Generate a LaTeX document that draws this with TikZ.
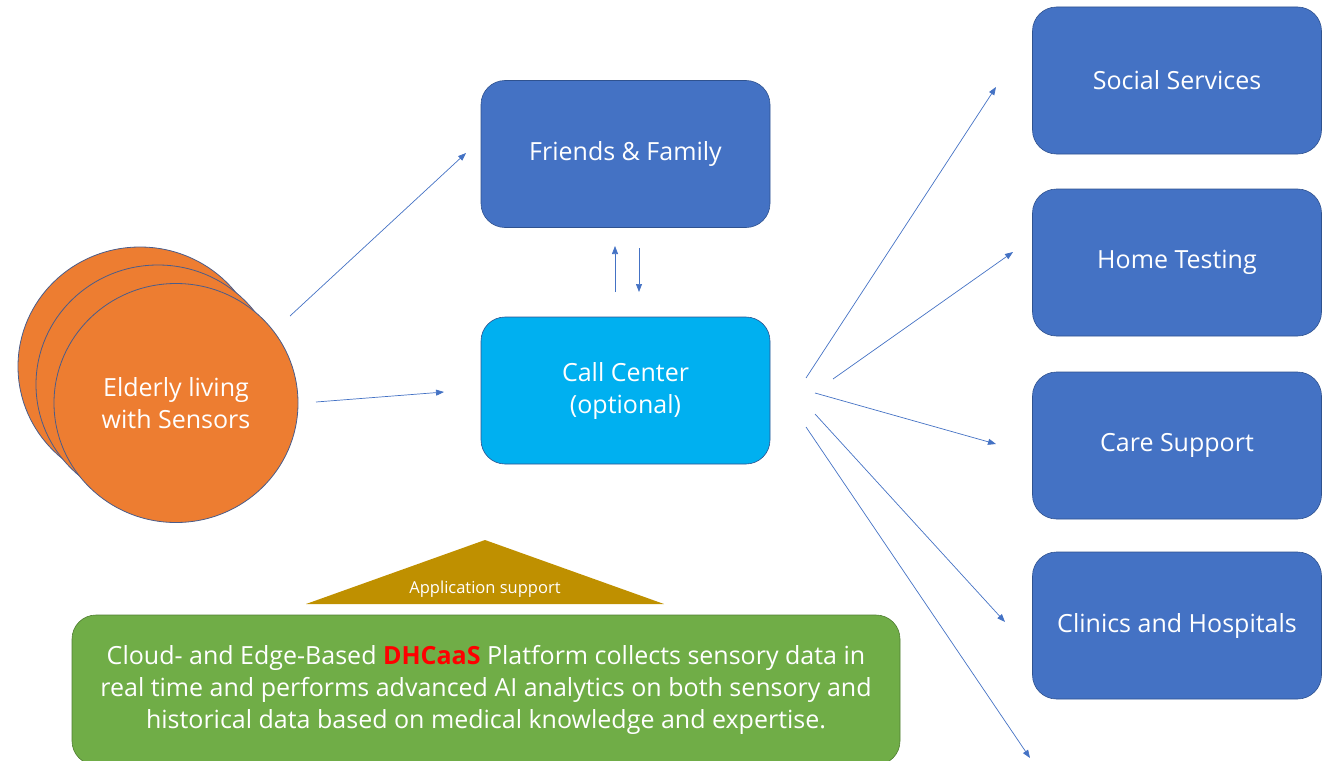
\documentclass[tikz,border=0pt]{standalone}
\usepackage{fontspec}
\setmainfont{Open Sans}
\usetikzlibrary{shapes.geometric,arrows.meta}
\definecolor{boxblue}{HTML}{4472C4}
\definecolor{boxedge}{HTML}{2F528F}
\definecolor{callcyan}{HTML}{00B0F0}
\definecolor{elderorange}{HTML}{ED7D31}
\definecolor{elderedge}{HTML}{4A5C8A}
\definecolor{platgreen}{HTML}{70AD47}
\definecolor{platedge}{HTML}{507E32}
\definecolor{supportgold}{HTML}{BF9000}
\definecolor{linkblue}{HTML}{4472C4}
\begin{document}
\begin{tikzpicture}[x=1pt,y=-1pt,
  svcbox/.style={draw=boxedge,line width=0.6pt,fill=boxblue,rounded corners=24pt,
    minimum width=289pt,minimum height=147pt,text=white,font=\fontsize{25}{32}\selectfont,
    align=center,inner sep=0pt},
  person/.style={ellipse,draw=elderedge,line width=0.8pt,fill=elderorange,
    minimum width=244pt,minimum height=239pt,inner sep=0pt},
  link/.style={draw=linkblue,line width=0.7pt,-{Triangle[length=8pt,width=6pt]}}]
\useasboundingbox (0,0) rectangle (1332,760);

% stacked elderly circles
\node[person] (eldA) at (140,366.5) {};
\node[person] (eldB) at (158,384.5) {};
\node[person,text=white,font=\fontsize{25}{32}\selectfont,align=center] (elder) at (176,403)
  {Elderly living\\with Sensors};

% central boxes
\node[svcbox] (family) at (625.5,154) {Friends \& Family};
\node[svcbox,fill=callcyan] (call) at (625.5,390.5) {Call Center\\(optional)};

% service providers
\node[svcbox] (social) at (1177,80.5) {Social Services};
\node[svcbox] (home) at (1177,262.5) {Home Testing};
\node[svcbox] (care) at (1177,445.5) {Care Support};
\node[svcbox] (clinic) at (1177,625.5) {Clinics and Hospitals};

% platform
\node[draw=platedge,line width=0.6pt,fill=platgreen,rounded corners=24pt,
  minimum width=828pt,minimum height=150pt,inner sep=0pt,text=white,align=center,
  font=\fontsize{25}{32}\selectfont] (platform) at (486,690)
  {Cloud- and Edge-Based {\color{red}\bfseries DHCaaS} Platform collects sensory data in\\
   real time and performs advanced AI analytics on both sensory and\\
   historical data based on medical knowledge and expertise.};

% application support wedge
\fill[supportgold] (306,604) -- (485,540) -- (664,604) -- cycle;
\node[text=white,font=\fontsize{16.5}{20}\selectfont] (appsup) at (485,589) {Application support};

% connector end points
\coordinate (e1s) at (290,316);   \coordinate (e1t) at (466,153);
\coordinate (e2s) at (316,402);   \coordinate (e2t) at (444,392);
\coordinate (upS) at (615,292);   \coordinate (upT) at (615,246);
\coordinate (dnS) at (639,248);   \coordinate (dnT) at (639,292);
\coordinate (c1s) at (806,378);   \coordinate (c1t) at (996,87);
\coordinate (c2s) at (833,379);   \coordinate (c2t) at (1013,252);
\coordinate (c3s) at (815,393);   \coordinate (c3t) at (996,444);
\coordinate (c4s) at (815,414);   \coordinate (c4t) at (1005,622);
\coordinate (c5s) at (806,427);   \coordinate (c5t) at (1030,758);

\draw[link] (e1s) -- (e1t);
\draw[link] (e2s) -- (e2t);
\draw[link] (upS) -- (upT);
\draw[link] (dnS) -- (dnT);
\draw[link] (c1s) -- (c1t);
\draw[link] (c2s) -- (c2t);
\draw[link] (c3s) -- (c3t);
\draw[link] (c4s) -- (c4t);
\draw[link] (c5s) -- (c5t);
\end{tikzpicture}
\end{document}
